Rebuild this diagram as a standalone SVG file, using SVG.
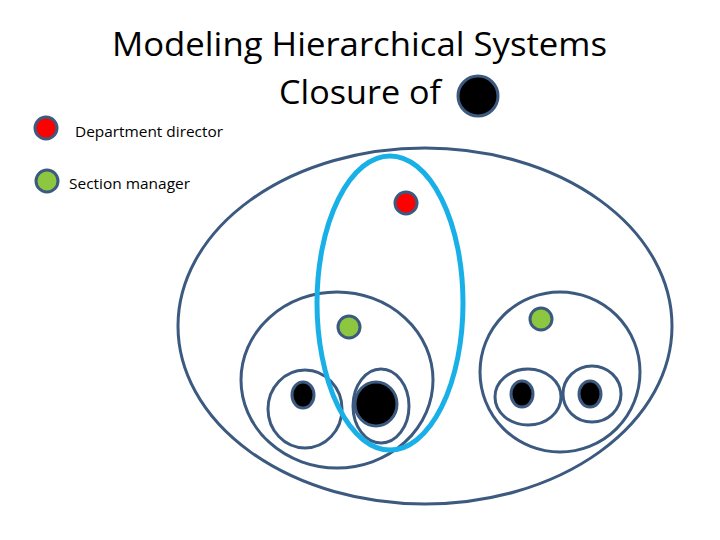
<svg xmlns="http://www.w3.org/2000/svg" width="720" height="540" viewBox="0 0 720 540">
<style>
.o{fill:none;stroke:#3c5a80;stroke-width:3}
.d{stroke:#3c5a80;stroke-width:3}
.t{font-family:"Open Sans","Liberation Sans",Arial,sans-serif;fill:#000}
</style>
<rect width="720" height="540" fill="#fff"/>
<g id="title">
<text class="t" x="112" y="56" font-size="32" textLength="495" lengthAdjust="spacingAndGlyphs">Modeling Hierarchical Systems</text>
<text class="t" x="279" y="104" font-size="32" textLength="162" lengthAdjust="spacingAndGlyphs">Closure of</text>
<circle class="d" cx="478" cy="96" r="20" fill="#000"/>
</g>
<g id="legend">
<circle class="d" cx="46" cy="128" r="11" fill="#f00"/>
<text class="t" x="75" y="137" font-size="15" textLength="148" lengthAdjust="spacingAndGlyphs">Department director</text>
<circle class="d" cx="47" cy="181" r="11" fill="#8dc63f"/>
<text class="t" x="69" y="189" font-size="15" textLength="121" lengthAdjust="spacingAndGlyphs">Section manager</text>
</g>
<g id="outer"><ellipse class="o" cx="425" cy="326" rx="247" ry="178"/></g>
<g id="left"><ellipse class="o" cx="337" cy="380" rx="96" ry="88"/></g>
<g id="right"><ellipse class="o" cx="560" cy="372" rx="80" ry="80"/></g>
<g id="l1"><ellipse class="o" cx="305" cy="409" rx="37" ry="39"/><ellipse class="d" cx="303" cy="395" rx="11" ry="13" fill="#000"/></g>
<g id="l2"><ellipse class="o" cx="381" cy="406" rx="28" ry="37"/><ellipse class="d" cx="376" cy="404" rx="21" ry="22" fill="#000"/></g>
<g id="r1"><ellipse class="o" cx="528" cy="397" rx="33" ry="28"/><ellipse class="d" cx="522" cy="394" rx="11" ry="13" fill="#000"/></g>
<g id="r2"><ellipse class="o" cx="592" cy="394" rx="29" ry="28"/><ellipse class="d" cx="590" cy="394" rx="11" ry="13" fill="#000"/></g>
<g id="director"><circle class="d" cx="406" cy="203" r="11" fill="#f00"/></g>
<g id="mgr1"><circle class="d" cx="349" cy="327" r="11" fill="#8dc63f"/></g>
<g id="mgr2"><circle class="d" cx="541" cy="319" r="11" fill="#8dc63f"/></g>
<g id="closure"><ellipse cx="390" cy="303" rx="73" ry="147" fill="none" stroke="#19b0e8" stroke-width="5"/></g>
<g id="connectors"/>
</svg>
